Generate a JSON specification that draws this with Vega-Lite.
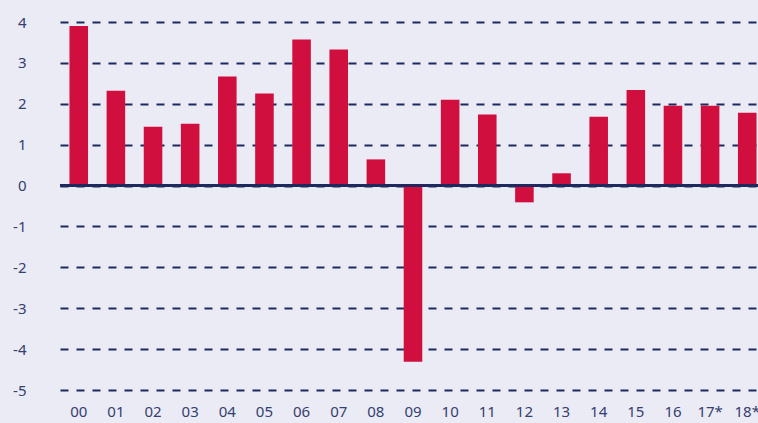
{
  "$schema": "https://vega.github.io/schema/vega-lite/v6.json",
  "width": 706,
  "height": 368,
  "autosize": {"type": "none"},
  "padding": {"left": 60, "top": 22, "right": 0, "bottom": 33},
  "background": "#EBEBF5",
  "config": {
    "view": {"stroke": null},
    "font": "Noto Sans"
  },
  "data": {
    "values": [
      {"year": "00", "value": 3.90},
      {"year": "01", "value": 2.32},
      {"year": "02", "value": 1.44},
      {"year": "03", "value": 1.51},
      {"year": "04", "value": 2.67},
      {"year": "05", "value": 2.25},
      {"year": "06", "value": 3.57},
      {"year": "07", "value": 3.33},
      {"year": "08", "value": 0.64},
      {"year": "09", "value": -4.31},
      {"year": "10", "value": 2.10},
      {"year": "11", "value": 1.74},
      {"year": "12", "value": -0.41},
      {"year": "13", "value": 0.30},
      {"year": "14", "value": 1.68},
      {"year": "15", "value": 2.34},
      {"year": "16", "value": 1.95},
      {"year": "17*", "value": 1.95},
      {"year": "18*", "value": 1.78}
    ]
  },
  "layer": [
    {
      "mark": {"type": "bar", "color": "#D10F3E"},
      "encoding": {
        "x": {
          "field": "year",
          "type": "ordinal",
          "sort": null,
          "scale": {"paddingInner": 0.5, "paddingOuter": 0.255},
          "axis": {
            "title": null,
            "labelAngle": 0,
            "domain": false,
            "ticks": false,
            "labelPadding": 14,
            "labelFontSize": 15,
            "labelColor": "#34406F",
            "labelDx": 3
          }
        },
        "y": {
          "field": "value",
          "type": "quantitative",
          "scale": {"domain": [-5, 4], "nice": false},
          "axis": {
            "title": null,
            "values": [-5, -4, -3, -2, -1, 0, 1, 2, 3, 4],
            "labelExpr": "toString(datum.value)",
            "domain": false,
            "ticks": false,
            "labelPadding": 34,
            "labelFontSize": 15,
            "labelColor": "#34406F",
            "grid": true,
            "gridDash": [8, 8],
            "gridColor": "#1E2A5E",
            "gridWidth": 2,
            "zindex": 0
          }
        }
      }
    },
    {
      "mark": {"type": "rule", "color": "#1E2A5E", "strokeWidth": 2},
      "encoding": {"y": {"datum": 0}}
    }
  ]
}
